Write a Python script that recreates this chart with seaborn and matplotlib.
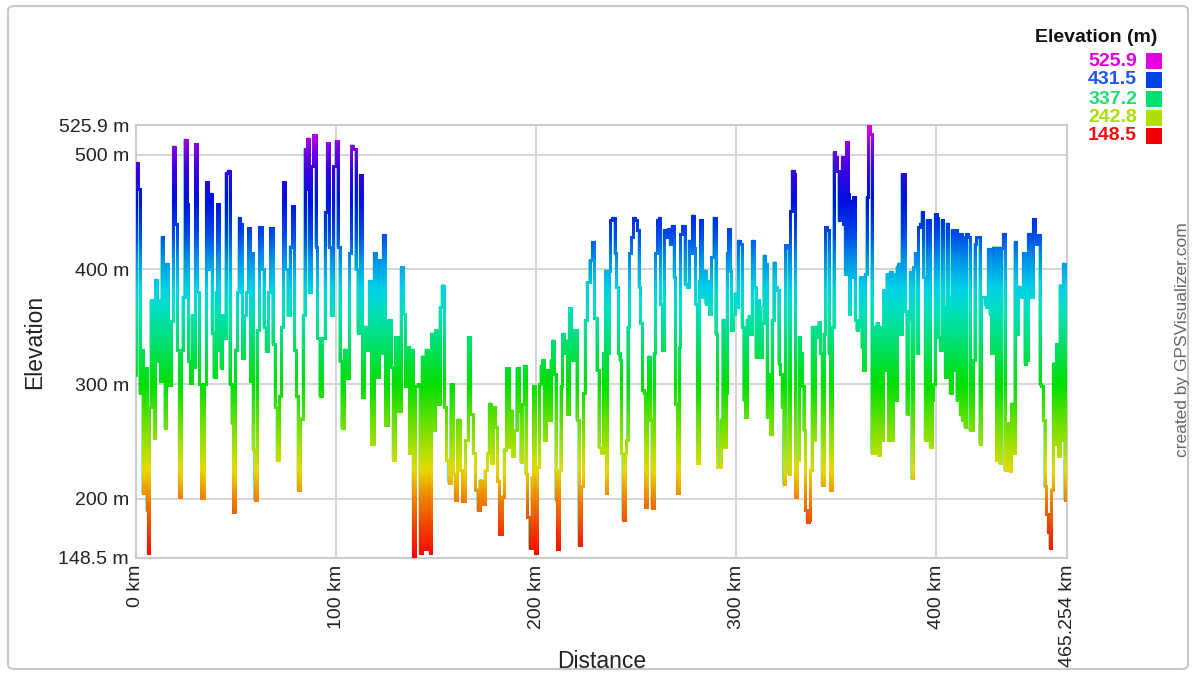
import numpy as np
import pandas as pd
import matplotlib
matplotlib.use("Agg")
import matplotlib.pyplot as plt
import seaborn as sns
from matplotlib.collections import LineCollection
from matplotlib.colors import LinearSegmentedColormap, Normalize
from matplotlib.patches import FancyBboxPatch, Rectangle

# ---------------- data ----------------
distance_km = [
    0.0, 0.33, 1.3, 2.3, 3.0, 3.7, 4.3, 5.0, 5.7, 6.3, 7.0, 7.7, 8.7, 9.3, 10.0, 10.7, 11.7, 12.3, 13.3, 14.0,
    14.7, 15.3, 16.3, 17.0, 18.0, 19.0, 20.0, 21.0, 22.0, 23.0, 23.7, 24.8, 25.7, 26.7, 27.3, 28.3, 29.0, 30.0,
    31.0, 32.0, 33.3, 34.3, 35.7, 36.7, 37.5, 38.3, 39.3, 40.3, 41.0, 42.0, 42.7, 43.7, 44.3, 45.3, 46.3, 47.3,
    48.3, 49.0, 50.0, 51.0, 51.7, 52.7, 53.7, 54.7, 55.7, 56.7, 57.7,
    58.0, 58.8, 59.7, 61.0, 62.2, 63.3, 64.3, 65.5, 66.7, 67.7, 68.8, 70.0, 70.8, 72.2, 73.0, 74.2, 75.2, 76.3,
    77.5, 78.7, 79.7, 80.5, 81.3, 83.0, 83.8, 84.7, 85.3, 85.8, 86.8, 88.0, 89.3, 90.2, 91.0, 92.5, 93.8, 95.0,
    95.8, 96.8, 98.0, 99.3, 100.2, 101.3, 102.2, 103.3, 104.7, 105.8, 107.2, 108.0, 109.2, 110.2, 111.3, 112.5,
    113.5, 114.7, 115.8,
    117.0, 118.3, 119.5, 120.7, 121.7, 122.8, 124.0, 125.3, 126.7, 127.8, 129.0, 130.3, 131.7, 133.0, 134.0,
    135.0, 136.2, 137.0, 137.8, 139.0, 140.3, 141.3, 142.3, 143.3, 144.2, 145.3, 146.3, 147.2, 148.0, 149.0,
    150.3, 151.3, 152.3, 153.3, 154.5, 155.7, 156.7, 157.8, 158.8, 160.0, 161.2, 162.3, 163.7, 165.3, 166.5,
    167.8, 169.0, 170.3, 171.2, 172.3, 173.7, 175.0,
    176.0, 176.8, 178.0, 179.0, 180.2, 181.0, 182.3, 183.5, 184.3, 185.7, 186.8, 187.7, 188.5, 189.7, 190.7,
    191.8, 192.7, 193.5, 194.3, 195.2, 196.0, 197.3, 198.2, 199.0, 199.7, 201.0, 201.8, 202.7, 203.5, 204.3,
    205.2, 206.0, 206.8, 207.7, 208.5, 209.3, 210.2, 211.0, 211.8, 212.7, 213.5, 214.3, 215.2, 216.0, 216.8,
    217.7, 218.5, 219.7, 220.7, 221.8, 223.0, 224.0, 224.7, 226.0, 227.3, 228.5, 229.7, 230.7, 231.8, 233.0,
    234.0, 234.8,
    235.3, 235.8, 236.7, 237.5, 238.7, 239.7, 240.5, 241.3, 242.0, 242.8, 243.7, 244.7, 245.3, 246.0, 247.0,
    248.0, 249.2, 250.0, 250.8, 251.7, 252.5, 253.3, 254.2, 255.0, 255.8, 256.3, 257.2, 258.3, 259.2, 260.0,
    260.8, 261.7, 262.5, 263.3, 264.2, 265.0, 266.3, 267.2, 268.3, 269.2, 270.0, 270.8, 271.7, 272.5, 273.7,
    274.7, 275.8, 276.7, 277.5, 278.3, 279.2, 280.0, 280.8, 281.7, 282.5, 283.3, 284.2, 285.0, 285.8, 287.0,
    288.0, 289.2, 290.0, 290.8, 291.7, 292.5, 293.7,
    294.4, 294.9, 295.7, 296.2, 297.0, 297.7, 298.7, 299.5, 300.3, 301.3, 302.3, 303.2, 304.0, 304.8, 305.7,
    306.5, 307.3, 308.3, 309.3, 310.0, 310.7, 311.5, 312.3, 313.2, 314.0, 314.8, 315.7, 316.5, 317.3, 318.2,
    319.0, 319.8, 320.7, 321.5, 322.3, 323.2, 324.0, 324.8, 325.7, 326.5, 327.3, 328.2, 329.0, 329.8, 330.7,
    331.5, 332.3, 333.2, 334.0, 334.8, 335.7, 336.5, 337.3, 338.2, 339.0, 339.8, 340.7, 341.5, 342.3, 343.2,
    344.0, 344.8, 345.7, 346.5, 347.3, 348.2, 349.0, 349.8, 350.7, 351.5, 352.3, 353.2,
    353.5, 353.8, 354.7, 355.3, 356.0, 356.7, 357.3, 358.0, 358.8, 359.7, 360.5, 361.3, 362.2, 363.0, 363.8,
    364.7, 365.5, 366.3, 367.2, 368.0, 368.8, 369.7, 370.5, 371.3, 372.2, 373.0, 373.8, 374.7, 375.5, 376.3,
    377.2, 378.0, 378.8, 379.7, 380.5, 381.3, 382.2, 383.0, 383.8, 384.7, 385.5, 386.3, 387.2, 388.0, 388.8,
    389.7, 390.5, 391.3, 392.2, 393.0, 393.8, 394.7, 395.5, 396.3, 397.2, 398.0, 398.8, 399.7, 400.5, 401.3,
    402.2, 403.0, 403.8, 404.7, 405.5, 406.3, 407.2, 408.0, 408.8, 409.7, 410.5, 411.3, 412.2,
    412.5, 413.0, 413.7, 414.5, 415.3, 416.2, 417.0, 417.8, 418.7, 419.5, 420.3, 421.2, 422.0, 422.8, 423.7,
    424.5, 425.3, 426.2, 427.0, 427.8, 428.7, 429.5, 430.3, 431.2, 432.0, 432.8, 433.7, 434.5, 435.3, 436.2,
    437.0, 437.8, 438.7, 439.5, 440.3, 441.2, 442.0, 442.8, 443.7, 444.5, 445.3, 446.2, 447.0, 447.8, 448.7,
    449.5, 450.3, 451.2, 452.0, 452.8, 453.7, 454.5, 455.3, 456.2, 457.0, 457.8, 458.7, 459.5, 460.3, 461.2,
    462.0, 462.8, 463.7, 464.5, 465.254,
]
elevation_m = [
    308, 493, 470, 292, 330, 205, 240, 314, 190, 153, 280, 373, 300, 253, 391, 320, 373, 303, 428, 340,
    262, 405, 330, 299, 355, 507, 440, 330, 202, 330, 376, 513, 457, 320, 301, 360, 315, 509,
    380, 300, 201, 300, 476, 400, 466, 345, 306, 380, 457, 330, 314, 360, 340, 484, 486, 300,
    266, 189, 330, 380, 445, 440, 323, 360, 380, 436, 303,
    414, 243, 199, 347, 437, 400, 350, 329, 380, 436, 335, 280, 234, 290, 350, 476, 400, 360,
    420, 455, 330, 290, 208, 270, 360, 505, 470, 514, 380, 490, 517, 420, 340, 290, 340, 450,
    510, 420, 360, 490, 512, 420, 320, 262, 330, 305, 414, 508, 505, 400, 345, 482,
    289, 350, 330,
    390, 248, 414, 306, 408, 327, 430, 264, 356, 315, 234, 341, 277, 402, 361,
    298, 332, 240, 330, 150, 298, 300, 153, 324, 156, 330, 156, 153, 344, 260,
    347, 283, 367, 386, 280, 234, 214, 300, 222, 199, 269, 225, 198, 251, 341,
    274, 240, 208, 190, 216, 196, 225,
    240, 283, 231, 280, 263, 216, 169, 202, 243, 314, 245, 277, 237, 260, 314,
    277, 232, 283, 316, 222, 184, 157, 219, 298, 153, 228, 300, 316, 321, 251,
    274, 312, 269, 321, 338, 309, 199, 156, 225, 298, 344, 327, 338, 274, 366,
    344, 321, 347, 269, 160, 211, 292, 356, 389, 408, 424, 358, 312, 245, 240,
    327, 399,
    205, 327, 399, 443, 445, 414, 385, 327, 321, 240, 182, 240, 251, 350, 414,
    428, 445, 443, 434, 385, 353, 295, 292, 193, 269, 324, 269, 192, 327, 414,
    443, 445, 370, 330, 434, 428, 435, 422, 438, 393, 283, 205, 332, 431, 438,
    387, 385, 425, 414, 447, 419, 370, 231, 390, 443, 376, 399, 370, 390, 361,
    411, 445, 344, 228, 228, 269, 356,
    245, 292, 414, 435, 399, 347, 361, 379, 367, 425, 422, 350, 286, 271, 356,
    359, 344, 425, 385, 324, 373, 367, 324, 353, 412, 405, 271, 309, 257, 356,
    406, 385, 382, 318, 309, 280, 213, 421, 419, 222, 451, 486, 483, 202, 234,
    341, 327, 298, 260, 190, 180, 182, 225, 350, 251, 350, 341, 354, 327, 212,
    344, 437, 434, 327, 208, 350, 502, 498, 486, 443, 457, 498,
    440, 498, 396, 511, 466, 361, 460, 393, 463, 356, 347, 350, 393, 332, 312,
    396, 463, 525, 518, 240, 350, 240, 353, 238, 350, 251, 382, 312, 396, 251,
    398, 251, 396, 286, 402, 405, 344, 483, 483, 364, 274, 356, 398, 218, 402,
    414, 327, 437, 440, 450, 393, 251, 443, 443, 245, 286, 300, 448, 445, 341,
    330, 443, 367, 306, 440, 376, 292, 434, 312, 434, 286, 431, 274,
    431, 269, 428, 263, 431, 428, 260, 260, 321, 422, 428, 428, 248, 376, 376,
    370, 367, 418, 361, 327, 419, 419, 234, 419, 231, 419, 431, 225, 225, 266,
    224, 283, 240, 424, 344, 385, 379, 376, 414, 318, 321, 431, 431, 376, 444,
    422, 422, 430, 300, 298, 269, 211, 187, 171, 157, 208, 318, 248, 335, 237,
    386, 251, 405, 199, 272,
]

y_ticks = [148.5, 200, 300, 400, 500, 525.9]
y_tick_labels = ["148.5 m", "200 m", "300 m", "400 m", "500 m", "525.9 m"]
x_ticks = [0, 100, 200, 300, 400, 465.254]
x_tick_labels = ["0 km", "100 km", "200 km", "300 km", "400 km", "465.254 km"]
legend_values = ["525.9", "431.5", "337.2", "242.8", "148.5"]
legend_colors = ["#e000e0", "#0044e8", "#00e070", "#b0e000", "#ee0000"]
legend_text_colors = ["#dd00dd", "#2255ee", "#22dd77", "#aadd00", "#ee1111"]

# ---------------- styling ----------------
sns.set_theme(style="white")
plt.rcParams["font.family"] = ["Liberation Sans", "DejaVu Sans"]

W, H = 1193, 675
fig = plt.figure(figsize=(W / 100, H / 100), dpi=100)
fig.patch.set_facecolor("white")

L, R, T, B = 136, 1067, 125, 558
ax = fig.add_axes([L / W, 1 - B / H, (R - L) / W, (B - T) / H])

df = pd.DataFrame({"Distance": distance_km, "Elevation": elevation_m})
sns.lineplot(data=df, x="Distance", y="Elevation", ax=ax, sort=False,
             estimator=None, color="#00d060", linewidth=1.6,
             drawstyle="steps-mid", zorder=2)

# colour gradient by elevation (step profile, vertical strokes coloured by height)
emin, emax = 148.5, 525.9
stops = [
    (148.5, "#ff0000"), (175, "#f04000"), (200, "#f08000"), (225, "#e8d800"),
    (242.8, "#b0e000"), (270, "#60e000"), (300, "#00e000"), (337.2, "#00e070"),
    (365, "#00e0c0"), (385, "#00d0e8"), (410, "#0090e8"), (431.5, "#0048e8"),
    (460, "#0010e0"), (490, "#4000e0"), (510, "#9000e0"), (525.9, "#e000e0"),
]
cmap = LinearSegmentedColormap.from_list(
    "elev", [((v - emin) / (emax - emin), c) for v, c in stops])

x = np.asarray(distance_km, float)
y = np.asarray(elevation_m, float)
segs, vals = [], []
for i in range(len(x) - 1):
    xm = 0.5 * (x[i] + x[i + 1])
    x0 = x[i] if i > 0 else x[0]
    # horizontal from previous midpoint handled by previous iteration
    segs.append([(x0 if i == 0 else x[i], y[i]), (xm, y[i])])
    vals.append(y[i])
    n = max(2, int(abs(y[i + 1] - y[i]) / 2.0) + 1)
    ys = np.linspace(y[i], y[i + 1], n + 1)
    for j in range(n):
        segs.append([(xm, ys[j]), (xm, ys[j + 1])])
        vals.append(0.5 * (ys[j] + ys[j + 1]))
    segs.append([(xm, y[i + 1]), (x[i + 1], y[i + 1])])
    vals.append(y[i + 1])
lc = LineCollection(segs, cmap=cmap, norm=Normalize(emin, emax),
                    linewidths=2.1, capstyle="projecting", zorder=3)
lc.set_array(np.array(vals))
ax.add_collection(lc)

ax.set_xlim(0, 465.254)
ax.set_ylim(emin, emax)
ax.set_xticks(x_ticks)
ax.set_xticklabels(x_tick_labels, rotation=90)
ax.set_yticks(y_ticks)
ax.set_yticklabels(y_tick_labels)
ax.tick_params(axis="both", length=0, labelsize=14, labelcolor="#222222")
ax.tick_params(axis="x", pad=5)
ax.tick_params(axis="y", pad=5)
ax.grid(True, color="#d2d2d2", linewidth=1.3, zorder=0)
ax.set_axisbelow(True)
for s in ax.spines.values():
    s.set_color("#cccccc")
    s.set_linewidth(1.5)

ax.set_xlabel("Distance", fontsize=16.5, color="#222222")
ax.xaxis.set_label_coords(0.5, (B - 662) / (B - T))
ax.xaxis.label.set_va("center")
ax.set_ylabel("Elevation", fontsize=16.5, color="#222222")
ax.yaxis.set_label_coords((35 - L) / (R - L), 0.5)
ax.yaxis.label.set_va("center")

# watermark
fig.text(1183 / W, 1 - 340 / H, "created by GPSVisualizer.com", rotation=90,
         ha="center", va="center", fontsize=12.5, color="#666666")

# legend
fig.text(1157 / W, 1 - 38 / H, "Elevation (m)", ha="right", va="center",
         fontsize=14, fontweight="bold", color="#111111")
legend_y = [61, 80, 99, 118, 136]
for val, c, tc, yy in zip(legend_values, legend_colors, legend_text_colors, legend_y):
    fig.text(1137 / W, 1 - yy / H, val, ha="right", va="center",
             fontsize=14, fontweight="bold", color=tc)
    fig.add_artist(Rectangle((1146 / W, 1 - (yy + 8) / H), 16 / W, 16 / H,
                             transform=fig.transFigure, facecolor=c,
                             edgecolor="none"))

# outer rounded border
fig.add_artist(FancyBboxPatch((8 / W, 6 / H), (1188 - 8) / W, (669 - 6) / H,
                              boxstyle="round,pad=0,rounding_size=0.006",
                              transform=fig.transFigure, fill=False,
                              edgecolor="#c8c8c8", linewidth=1.5))

fig.savefig("out.png", dpi=100)
